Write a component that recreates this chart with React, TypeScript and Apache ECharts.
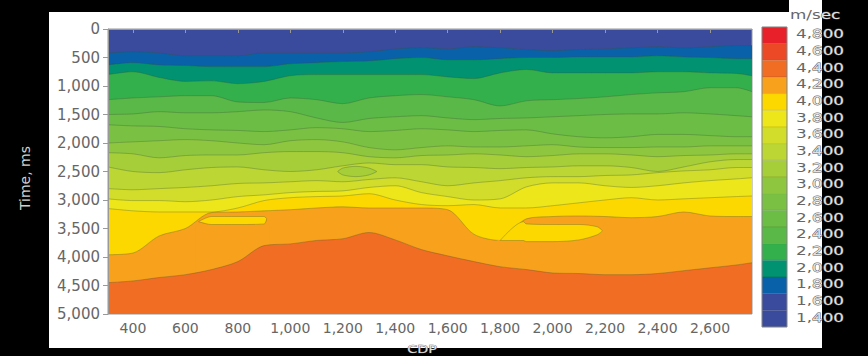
import React, { useEffect, useRef } from "react";
import * as echarts from "echarts";

// CDP sample positions shared by the main contour boundaries
const cdp = [305, 400, 500, 600, 700, 800, 900, 1000, 1100, 1200, 1300, 1400, 1500, 1600, 1700, 1800, 1900, 2000, 2100, 2200, 2300, 2400, 2500, 2600, 2700, 2760];

// Time (ms) of the top of each velocity band, read along the CDP samples
const top1800 = [420, 400, 420, 470, 470, 470, 420, 420, 420, 420, 400, 350, 330, 350, 310, 330, 360, 380, 360, 350, 330, 310, 330, 310, 290, 290];
const top2000 = [630, 590, 630, 640, 660, 660, 660, 610, 590, 570, 560, 520, 500, 540, 540, 520, 500, 500, 490, 490, 490, 470, 490, 500, 520, 520];
const top2200 = [800, 750, 850, 920, 910, 960, 920, 820, 800, 800, 800, 800, 800, 840, 870, 770, 710, 770, 770, 770, 770, 750, 750, 770, 780, 820];
const top2400 = [1240, 1210, 1190, 1170, 1170, 1280, 1290, 1210, 1240, 1310, 1210, 1170, 1150, 1190, 1240, 1350, 1260, 1240, 1220, 1190, 1150, 1120, 1100, 1030, 1030, 1100];
const top2600 = [1500, 1490, 1450, 1470, 1470, 1450, 1420, 1450, 1560, 1640, 1570, 1540, 1520, 1560, 1590, 1570, 1560, 1540, 1520, 1500, 1490, 1490, 1470, 1490, 1520, 1540];
const top2800 = [1680, 1700, 1710, 1750, 1770, 1780, 1800, 1770, 1730, 1750, 1800, 1780, 1750, 1770, 1800, 1780, 1770, 1840, 1890, 1910, 1890, 1850, 1850, 1870, 1890, 1890];
const top3000 = [2000, 1980, 1960, 1940, 1960, 2000, 2030, 1960, 1940, 1980, 2080, 2120, 2080, 2050, 2070, 2070, 2050, 2030, 2070, 2080, 2080, 2070, 2070, 2050, 2050, 2050];
const top3200 = [2170, 2190, 2260, 2220, 2210, 2210, 2170, 2150, 2150, 2170, 2240, 2260, 2220, 2210, 2190, 2210, 2240, 2220, 2190, 2190, 2210, 2240, 2220, 2210, 2190, 2190];
const top3400 = [2420, 2500, 2520, 2470, 2430, 2420, 2470, 2500, 2470, 2400, 2350, 2380, 2380, 2420, 2430, 2450, 2430, 2420, 2400, 2400, 2430, 2500, 2420, 2330, 2290, 2290];
const top3600 = [2800, 2820, 2800, 2780, 2750, 2710, 2700, 2680, 2660, 2680, 2640, 2610, 2680, 2750, 2700, 2660, 2610, 2590, 2590, 2570, 2560, 2520, 2490, 2470, 2430, 2430];
const top3800 = [2980, 3010, 3010, 3030, 3000, 2940, 2910, 2870, 2850, 2840, 2780, 2750, 2870, 2940, 3000, 2980, 2770, 2700, 2700, 2750, 2780, 2750, 2700, 2660, 2630, 2610];
const top4000 = [3150, 3190, 3210, 3210, 3210, 3140, 3010, 2960, 2940, 2930, 2890, 3000, 3080, 3100, 3080, 3140, 3140, 3100, 3050, 3000, 2960, 3000, 2980, 2960, 2940, 2930];
const top4200 = [3960, 3930, 3630, 3500, 3220, 3210, 3190, 3170, 3140, 3120, 3140, 3140, 3140, 3170, 3600, 3710, 3330, 3290, 3280, 3290, 3310, 3290, 3210, 3280, 3290, 3290];
const top4400 = [4450, 4420, 4360, 4310, 4220, 4080, 3800, 3770, 3710, 3680, 3570, 3700, 3870, 3980, 4080, 4170, 4220, 4280, 4290, 4310, 4310, 4290, 4240, 4190, 4140, 4100];

// Closed 3,200 island inside the 3,400 band (top and bottom edges; the bottom edge
// starts and ends on the surrounding boundary so the fill closes cleanly)
const islandTopCdp = [1180, 1200, 1250, 1300, 1330];
const islandTop = [2500, 2440, 2410, 2440, 2500];
const islandBottomCdp = [1170, 1180, 1200, 1250, 1300, 1330, 1340];
const islandBottom = [2420, 2500, 2560, 2590, 2560, 2500, 2360];

// 4,000 strip under the western 4,200 tongue
const stripTopCdp = [650, 700, 800, 900, 910];
const stripTop = [3380, 3290, 3290, 3290, 3330];
const stripBottomCdp = [640, 650, 700, 800, 900, 910, 920];
const stripBottom = [3390, 3380, 3430, 3430, 3420, 3330, 3190];

// 4,000 lobe under the eastern 4,200 tongue
const lobeTopCdp = [1800, 1888, 1900, 2000, 2100, 2170, 2190];
const lobeTop = [3710, 3380, 3420, 3430, 3430, 3470, 3540];
const lobeBottomCdp = [1790, 1800, 1888, 1900, 2000, 2100, 2170, 2190, 2200];
const lobeBottom = [3699, 3710, 3710, 3730, 3730, 3700, 3610, 3540, 3290];

// Colour scale (m/sec)
const legendLevels = [4800, 4600, 4400, 4200, 4000, 3800, 3600, 3400, 3200, 3000, 2800, 2600, 2400, 2200, 2000, 1800, 1600, 1400];
const legendColors = ["#e8202a", "#ec4a26", "#f06d23", "#f8a11c", "#fdd800", "#ece61a", "#d2dc2a", "#bcd633", "#a6ce39", "#8ec73f", "#7ac143", "#6bbd45", "#5ab848", "#33b04b", "#009271", "#0961a9", "#3a4b9e", "#3a4b9e"];

const xTicks = [400, 600, 800, 1000, 1200, 1400, 1600, 1800, 2000, 2200, 2400, 2600];

const FONT = "'DejaVu Sans', Verdana, sans-serif";
const CONTOUR = { color: "rgba(60,85,50,0.45)", width: 0.7 };

const colorOf = (level: number) => legendColors[legendLevels.indexOf(level)];
const fmt = (v: number) => Number(v).toLocaleString("en-US");

export default function App() {
  const ref = useRef<HTMLDivElement>(null);

  useEffect(() => {
    if (!ref.current) return;
    const chart = echarts.init(ref.current, null, { renderer: "svg" });

    const layers: { xs: number[]; ys: number[]; level: number; aux?: boolean }[] = [
      { xs: cdp, ys: top1800, level: 1800 },
      { xs: cdp, ys: top2000, level: 2000 },
      { xs: cdp, ys: top2200, level: 2200 },
      { xs: cdp, ys: top2400, level: 2400 },
      { xs: cdp, ys: top2600, level: 2600 },
      { xs: cdp, ys: top2800, level: 2800 },
      { xs: cdp, ys: top3000, level: 3000 },
      { xs: cdp, ys: top3200, level: 3200 },
      { xs: cdp, ys: top3400, level: 3400 },
      { xs: islandTopCdp, ys: islandTop, level: 3200 },
      { xs: islandBottomCdp, ys: islandBottom, level: 3400, aux: true },
      { xs: cdp, ys: top3600, level: 3600 },
      { xs: cdp, ys: top3800, level: 3800 },
      { xs: cdp, ys: top4000, level: 4000 },
      { xs: cdp, ys: top4200, level: 4200 },
      { xs: stripTopCdp, ys: stripTop, level: 4000 },
      { xs: stripBottomCdp, ys: stripBottom, level: 4200, aux: true },
      { xs: lobeTopCdp, ys: lobeTop, level: 4000 },
      { xs: lobeBottomCdp, ys: lobeBottom, level: 4200, aux: true },
      { xs: cdp, ys: top4400, level: 4400 },
    ];

    const series: any[] = [];
    layers.forEach((l, i) => {
      series.push({
        type: "line",
        data: l.xs.map((x, j) => [x, l.ys[j]]),
        symbol: "none",
        showSymbol: false,
        smooth: 0.3,
        silent: true,
        clip: true,
        z: 2 + i,
        lineStyle: l.aux ? { width: 0, opacity: 0 } : CONTOUR,
        areaStyle: { color: colorOf(l.level), opacity: 1, origin: "end" },
      });
      if (l.aux) {
        // contour line of the closing edge, without the joining end points
        const xs = l.xs.slice(1, -1);
        const ys = l.ys.slice(1, -1);
        series.push({
          type: "line",
          data: xs.map((x, j) => [x, ys[j]]),
          symbol: "none",
          showSymbol: false,
          smooth: 0.3,
          silent: true,
          clip: true,
          z: 2 + i,
          lineStyle: CONTOUR,
        });
      }
    });

    const bandTop = 27;
    const bandH = 300 / legendLevels.length;
    const legendGraphics: any[] = [];
    legendLevels.forEach((lv, i) => {
      legendGraphics.push({
        type: "rect",
        shape: { x: 762, y: bandTop + i * bandH, width: 25, height: bandH },
        style: { fill: legendColors[i], stroke: "rgba(0,0,0,0.15)", lineWidth: 0.5 },
      });
      const s = fmt(lv);
      const cut = s.indexOf(",") + 1;
      legendGraphics.push({
        type: "text",
        x: 796,
        y: bandTop + (i + 0.5) * bandH - 1.5,
        scaleX: 1.4,
        style: {
          text: `{a|${s.slice(0, cut)}}{b|${s.slice(cut)}}`,
          font: `12px ${FONT}`,
          align: "left",
          verticalAlign: "middle",
          rich: {
            a: { fill: "#666", font: `12px ${FONT}` },
            b: { fill: "#e2e2e2", stroke: "#555", lineWidth: 0.8, font: `12px ${FONT}` },
          },
        },
      });
    });
    legendGraphics.push({
      type: "rect",
      shape: { x: 762, y: bandTop, width: 25, height: 300 },
      style: { fill: "none", stroke: "#888", lineWidth: 1 },
    });

    chart.setOption({
      animation: false,
      grid: {
        left: 108,
        top: 29,
        right: 116,
        bottom: 42,
        show: true,
        backgroundColor: colorOf(1600),
        borderColor: "#999",
        borderWidth: 1,
      },
      xAxis: {
        type: "value",
        min: 305,
        max: 2760,
        z: 50,
        splitLine: { show: false },
        axisLine: { show: true, lineStyle: { color: "#999" } },
        axisTick: { show: true, length: 4, customValues: xTicks, lineStyle: { color: "#999" } },
        axisLabel: {
          customValues: xTicks,
          formatter: (v: number) => fmt(v),
          color: "#666",
          fontSize: 14,
          fontFamily: FONT,
          margin: 7,
        },
      },
      yAxis: {
        type: "value",
        inverse: true,
        min: 0,
        max: 5000,
        interval: 500,
        z: 50,
        splitLine: { show: false },
        axisLine: { show: true, lineStyle: { color: "#999" } },
        axisTick: { show: true, length: 5, lineStyle: { color: "#999" } },
        axisLabel: {
          formatter: (v: number) => fmt(v),
          color: "#666",
          fontSize: 15,
          fontFamily: FONT,
          margin: 8,
        },
      },
      graphic: [
        {
          type: "text",
          x: 25,
          y: 178,
          rotation: Math.PI / 2,
          style: { text: "Time, ms", font: `14px ${FONT}`, fill: "#d0d0d0", align: "center", verticalAlign: "middle" },
        },
        {
          type: "text",
          x: 422,
          y: 355,
          scaleX: 1.3,
          style: { text: "CDP", font: `11px ${FONT}`, fill: "#e0e0e0", stroke: "#555", lineWidth: 0.6, align: "center", verticalAlign: "bottom" },
        },
        {
          type: "text",
          x: 790,
          y: 14,
          scaleX: 1.4,
          style: {
            text: "{a|m/s}{b|ec}",
            font: `12px ${FONT}`,
            align: "left",
            verticalAlign: "middle",
            rich: {
              a: { fill: "#666", font: `12px ${FONT}` },
              b: { fill: "#e2e2e2", stroke: "#555", lineWidth: 0.8, font: `12px ${FONT}` },
            },
          },
        },
        ...legendGraphics,
      ],
      series,
    });

    return () => chart.dispose();
  }, []);

  return (
    <div style={{ position: "fixed", left: 0, top: 0, width: 868, height: 356, background: "#000", overflow: "hidden" }}>
      <div style={{ position: "absolute", left: 49, top: 12, width: 773, height: 336, background: "#fff" }} />
      <div style={{ position: "absolute", left: 789, top: 0, width: 33, height: 12, background: "#fff" }} />
      <div ref={ref} style={{ position: "absolute", left: 0, top: 0, width: 868, height: 356 }} />
    </div>
  );
}
